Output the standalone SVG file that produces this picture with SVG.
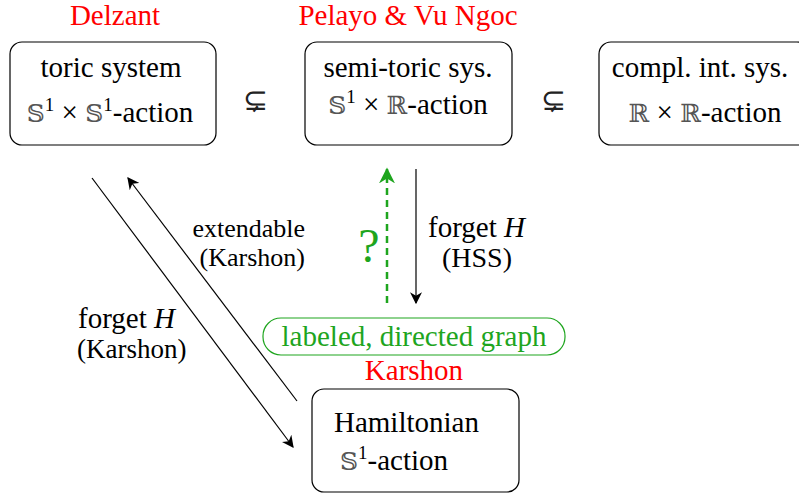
<svg xmlns="http://www.w3.org/2000/svg" width="799" height="496" viewBox="0 0 799 496">
<style>
text{font-family:"Liberation Serif","Times New Roman","DejaVu Serif",serif;font-size:29px;fill:#000}
.red{fill:#ff0000}
.grn{fill:#1ea51e}
.box{fill:#fff;stroke:#000;stroke-width:1.2}
.gbox{fill:#fff;stroke:#1ea51e;stroke-width:1.2}
.ds{font-family:"DejaVu Serif","DejaVu Sans",serif;font-size:25px;fill:#555}
.sup{font-size:19px}
.edge{stroke:#000;stroke-width:1.2;fill:none}
.sub{font-family:"DejaVu Serif","Liberation Serif",serif;font-size:30px;fill:#222}
</style>
<defs>
<marker id="ah" viewBox="0 0 10 10" refX="9" refY="5" markerWidth="12" markerHeight="12" markerUnits="userSpaceOnUse" orient="auto">
<path d="M0,0 L10,5 L0,10 L3,5 Z" fill="#000"/>
</marker>
<marker id="ahg" viewBox="0 0 10 10" refX="9" refY="5" markerWidth="16" markerHeight="16" markerUnits="userSpaceOnUse" orient="auto">
<path d="M0,0 L10,5 L0,10 L3,5 Z" fill="#1ea51e"/>
</marker>
</defs>

<text class="red" x="115" y="25" text-anchor="middle">Delzant</text>
<text class="red" x="408" y="25" text-anchor="middle">Pelayo &amp; Vu Ngoc</text>

<g id="toric">
<rect class="box" x="10" y="42" width="206" height="103" rx="12"/>
<text x="111" y="77" text-anchor="middle">toric system</text>
<text x="110" y="122" text-anchor="middle"><tspan class="ds">𝕊</tspan><tspan class="sup" dy="-11">1</tspan><tspan dy="11"> × </tspan><tspan class="ds">𝕊</tspan><tspan class="sup" dy="-11">1</tspan><tspan dy="11">-action</tspan></text>
</g>

<text class="sub" x="255" y="110" text-anchor="middle">⊊</text>

<g id="semitoric">
<rect class="box" x="305" y="42" width="207" height="103" rx="12"/>
<text x="408" y="77" text-anchor="middle">semi-toric sys.</text>
<text x="408" y="114" text-anchor="middle"><tspan class="ds">𝕊</tspan><tspan class="sup" dy="-11">1</tspan><tspan dy="11"> × </tspan><tspan class="ds">ℝ</tspan><tspan>-action</tspan></text>
</g>

<text class="sub" x="553" y="110" text-anchor="middle">⊊</text>

<g id="complint">
<rect class="box" x="599" y="42" width="210" height="103" rx="12"/>
<text x="700" y="77" text-anchor="middle">compl. int. sys.</text>
<text x="705" y="122" text-anchor="middle"><tspan class="ds">ℝ</tspan><tspan> × </tspan><tspan class="ds">ℝ</tspan><tspan>-action</tspan></text>
</g>

<g id="graph">
<rect class="gbox" x="263" y="318" width="302" height="37" rx="18"/>
<text class="grn" x="414" y="346" text-anchor="middle">labeled, directed graph</text>
<text class="red" x="414" y="380" text-anchor="middle">Karshon</text>
</g>

<g id="hamiltonian">
<rect class="box" x="312" y="389" width="207" height="103" rx="12"/>
<text x="334" y="432">Hamiltonian</text>
<text x="340" y="470"><tspan class="ds">𝕊</tspan><tspan class="sup" dy="-11">1</tspan><tspan dy="11">-action</tspan></text>
</g>

<g id="connectors">
<line class="edge" x1="92" y1="178" x2="293" y2="447" marker-end="url(#ah)"/>
<line class="edge" x1="297" y1="401" x2="128" y2="178" marker-end="url(#ah)"/>
<line class="edge" x1="416" y1="169" x2="416" y2="303" marker-end="url(#ah)"/>
<line x1="387" y1="303" x2="387" y2="169" stroke="#1ea51e" stroke-width="2.5" stroke-dasharray="7,5" fill="none" marker-end="url(#ahg)"/>
</g>

<text x="305" y="237" text-anchor="end" style="font-size:26px">extendable</text>
<text x="305" y="266" text-anchor="end" style="font-size:26px">(Karshon)</text>
<text x="78" y="328">forget <tspan font-style="italic">H</tspan></text>
<text x="77" y="358" style="font-size:27px">(Karshon)</text>
<text x="428" y="237">forget <tspan font-style="italic">H</tspan></text>
<text x="477" y="267" text-anchor="middle" style="font-size:28px">(HSS)</text>
<text class="grn" x="369" y="262" text-anchor="middle" style="font-size:48px">?</text>
</svg>
